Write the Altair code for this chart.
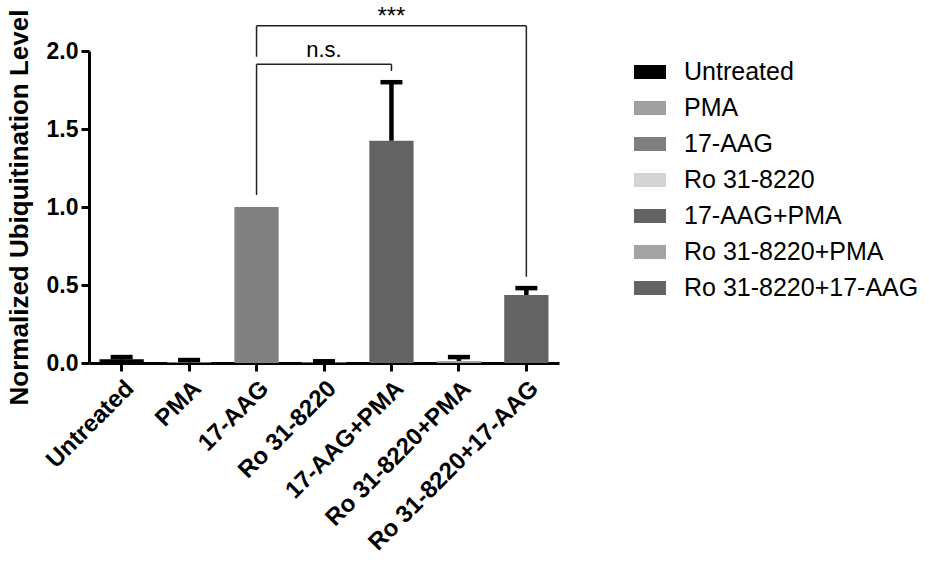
import altair as alt
import pandas as pd

categories = ["Untreated", "PMA", "17-AAG", "Ro 31-8220", "17-AAG+PMA",
              "Ro 31-8220+PMA", "Ro 31-8220+17-AAG"]
values = [0.024, 0.005, 1.0, 0.003, 1.425, 0.013, 0.436]
err_top = [0.038, 0.019, None, 0.011, 1.80, 0.038, 0.48]
colors = ["#000000", "#a0a0a0", "#808080", "#d4d4d4", "#636363", "#a3a3a3", "#636363"]

# significance brackets (segments in data coordinates)
seg_x1 = ["17-AAG", "17-AAG", "17-AAG+PMA", "17-AAG", "17-AAG", "Ro 31-8220+17-AAG"]
seg_x2 = ["17-AAG+PMA", "17-AAG", "17-AAG+PMA", "Ro 31-8220+17-AAG", "17-AAG", "Ro 31-8220+17-AAG"]
seg_y1 = [1.915, 1.077, 1.872, 2.162, 1.963, 0.553]
seg_y2 = [1.915, 1.915, 1.915, 2.162, 2.162, 2.162]

sig_labels = ["n.s.", "***"]
sig_x = ["Ro 31-8220", "17-AAG+PMA"]
sig_y = [1.963, 2.175]
sig_size = [22, 24]

FONT = "Liberation Sans"

df = pd.DataFrame({"cat": categories, "value": values, "err": err_top})
df_err = df.dropna()
df_seg = pd.DataFrame({"x1": seg_x1, "x2": seg_x2, "y1": seg_y1, "y2": seg_y2})
df_sig = pd.DataFrame({"label": sig_labels, "cat": sig_x, "y": sig_y, "size": sig_size})

xscale = alt.Scale(domain=categories, paddingInner=0.344, paddingOuter=0.156)
yscale = alt.Scale(domain=[0, 2], nice=False)

xaxis = alt.Axis(title=None, labelAngle=-45, labelFont=FONT, labelFontSize=24,
                 labelFontWeight="bold", labelColor="black", labelPadding=5,
                 labelLimit=400, domainColor="black", domainWidth=3,
                 tickColor="black", tickWidth=3, tickSize=8, grid=False)
yaxis = alt.Axis(title="Normalized Ubiquitination Level", values=[0, 0.5, 1, 1.5, 2],
                 format=".1f", grid=False, labelFont=FONT, labelFontSize=23,
                 labelFontWeight="bold", labelColor="black", labelPadding=3,
                 domainColor="black", domainWidth=3, tickColor="black",
                 tickWidth=3, tickSize=8, titleFont=FONT, titleFontSize=26,
                 titleFontWeight="bold", titleColor="black", titleX=-62,
                 titleY=156, titleAlign="center", titleBaseline="alphabetic",
                 titleAngle=-90)

bars = alt.Chart(df).mark_bar(opacity=1).encode(
    x=alt.X("cat:N", sort=categories, scale=xscale, axis=xaxis),
    y=alt.Y("value:Q", scale=yscale, axis=yaxis),
    color=alt.Color("cat:N", sort=categories,
                    scale=alt.Scale(domain=categories, range=colors),
                    legend=alt.Legend(title=None, orient="none", legendX=545, legendY=5,
                                      symbolType="M-1,-0.4375H1V0.4375H-1Z",
                                      symbolSize=1024, symbolStrokeWidth=0,
                                      symbolOpacity=1,
                                      labelFont=FONT, labelFontSize=25,
                                      labelColor="black", rowPadding=7,
                                      labelOffset=18, labelLimit=400)),
)

err_rule = alt.Chart(df_err).mark_rule(color="black", strokeWidth=4.5, opacity=1).encode(
    x=alt.X("cat:N", sort=categories),
    y="value:Q",
    y2="err:Q",
)

err_cap = alt.Chart(df_err).mark_tick(color="black", size=22, thickness=4.5,
                                      opacity=1).encode(
    x=alt.X("cat:N", sort=categories),
    y="err:Q",
)

brackets = alt.Chart(df_seg).mark_rule(color="#222222", strokeWidth=1.5).encode(
    x=alt.X("x1:N", sort=categories),
    x2="x2:N",
    y="y1:Q",
    y2="y2:Q",
)

sig = alt.Chart(df_sig).mark_text(font=FONT, color="black", baseline="alphabetic",
                                  align="center").encode(
    x=alt.X("cat:N", sort=categories),
    y="y:Q",
    text="label:N",
    size=alt.Size("size:Q", scale=None, legend=None),
)

chart = alt.layer(bars, err_rule, err_cap, brackets, sig).properties(
    width=470, height=312,
    background="white",
    autosize=alt.AutoSizeParams(type="none"),
    padding={"left": 89, "top": 51, "right": 370, "bottom": 200},
).configure_view(strokeWidth=0, stroke="transparent")

chart.save("out.html", embed_options={"renderer": "svg", "actions": False})
